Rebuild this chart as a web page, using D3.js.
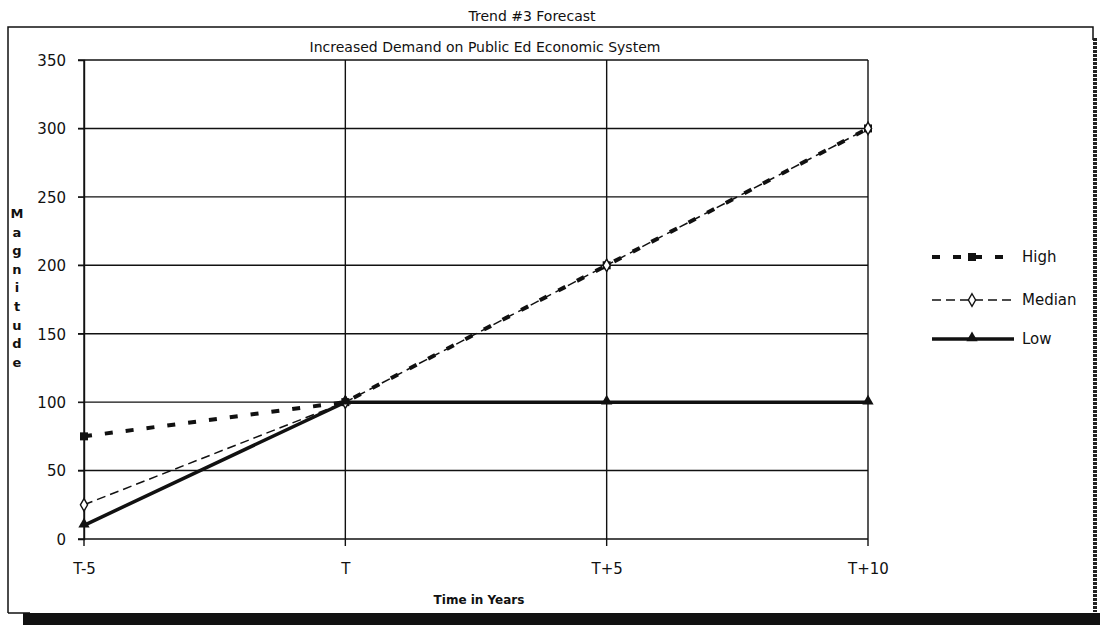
<!DOCTYPE html>
<html>
<head>
<meta charset="utf-8">
<script src="https://cdn.jsdelivr.net/npm/d3@7"></script>
<style>
  body { margin: 0; background: #fff; }
  text { font-family: "DejaVu Sans", Verdana, sans-serif; fill: #111; }
</style>
</head>
<body>
<div id="container"><svg></svg></div>
<script>
// chart data
const categories = ["T-5", "T", "T+5", "T+10"];
const high = [75, 100, 200, 300];
const median = [25, 100, 200, 300];
const low = [10, 100, 100, 100];
const yTicks = [0, 50, 100, 150, 200, 250, 300, 350];

const width = 1100, height = 625;
const margin = { left: 84, right: 232, top: 60, bottom: 86 };

let svg = d3.select('#container').select('svg')
    .attr('width', width)
    .attr('height', height);

let x = d3.scalePoint().domain(categories).range([margin.left, width - margin.right]);
let y = d3.scaleLinear().domain([0, 350]).range([height - margin.bottom, margin.top]);

// outer frame
svg.append("path")
    .attr("d", "M8,613 V27 H1093 V40")
    .attr("fill", "none").attr("stroke", "#111").attr("stroke-width", 1.5);
svg.append("line")
    .attr("x1", 8).attr("x2", 30).attr("y1", 613).attr("y2", 613)
    .attr("stroke", "#111").attr("stroke-width", 1.5);
svg.append("line")
    .attr("x1", 1095).attr("x2", 1095).attr("y1", 38).attr("y2", 612)
    .attr("stroke", "#222").attr("stroke-width", 4).attr("stroke-dasharray", "3,1");
svg.append("rect")
    .attr("x", 23).attr("y", 613).attr("width", width - 23).attr("height", 12)
    .attr("fill", "#111");

// titles
svg.append("text").attr("x", 532).attr("y", 21).attr("text-anchor", "middle")
    .style("font-size", "14px").text("Trend #3 Forecast");
svg.append("text").attr("x", 485).attr("y", 52).attr("text-anchor", "middle")
    .style("font-size", "14px").text("Increased Demand on Public Ed Economic System");

// grid
svg.append("g").selectAll("line").data(yTicks).join("line")
    .attr("x1", margin.left - 6).attr("x2", width - margin.right)
    .attr("y1", d => y(d)).attr("y2", d => y(d))
    .attr("stroke", "#111").attr("stroke-width", 1.4);
svg.append("g").selectAll("line").data(categories).join("line")
    .attr("x1", d => x(d)).attr("x2", d => x(d))
    .attr("y1", y(350)).attr("y2", y(0) + 7)
    .attr("stroke", "#111").attr("stroke-width", 1.4);

// axes
let yAxis = svg.append("g")
    .attr("transform", `translate(${margin.left},0)`)
    .call(d3.axisLeft(y).tickValues(yTicks).tickSize(6).tickPadding(12));
yAxis.select(".domain").attr("stroke", "#111").attr("stroke-width", 1.4);
yAxis.selectAll("line").attr("stroke", "#111");
yAxis.selectAll("text").style("font-size", "15px").attr("dy", "0.36em");

let xAxis = svg.append("g")
    .attr("transform", `translate(0,${y(0)})`)
    .call(d3.axisBottom(x).tickSize(0).tickPadding(24));
xAxis.select(".domain").remove();
xAxis.selectAll("text").style("font-size", "15px");

// axis titles
svg.append("text").attr("x", 479).attr("y", 604).attr("text-anchor", "middle")
    .style("font-size", "12px").style("font-weight", "bold").text("Time in Years");
svg.append("g").selectAll("text").data("Magnitude".split("")).join("text")
    .attr("x", 17).attr("y", (d, i) => 218 + i * 18.6)
    .attr("text-anchor", "middle")
    .style("font-size", "13px").style("font-weight", "bold")
    .text(d => d);

// series
const series = [
  { name: "High", values: high, width: 4, dash: "8,13", marker: "square" },
  { name: "Median", values: median, width: 1.5, dash: "9,5", marker: "diamond" },
  { name: "Low", values: low, width: 3.5, dash: null, marker: "triangle" }
];

let line = d3.line().x((d, i) => x(categories[i])).y(d => y(d));

function drawMarker(g, type, cx, cy) {
  if (type === "square") {
    g.append("rect").attr("x", cx - 4).attr("y", cy - 4).attr("width", 8).attr("height", 8)
      .attr("fill", "#111");
  } else if (type === "diamond") {
    g.append("path").attr("d", d3.symbol(d3.symbolDiamond, 45)())
      .attr("transform", `translate(${cx},${cy})`)
      .attr("fill", "#fff").attr("stroke", "#111").attr("stroke-width", 1.4);
  } else {
    g.append("path").attr("d", d3.symbol(d3.symbolTriangle, 55)())
      .attr("transform", `translate(${cx},${cy - 1})`)
      .attr("fill", "#111");
  }
}

series.forEach(s => {
  svg.append("path").datum(s.values)
      .attr("d", line)
      .attr("fill", "none").attr("stroke", "#111")
      .attr("stroke-width", s.width)
      .attr("stroke-dasharray", s.dash);
});
series.forEach(s => {
  let g = svg.append("g");
  s.values.forEach((v, i) => drawMarker(g, s.marker, x(categories[i]), y(v)));
});

// legend
const legendY = [257, 300, 339];
series.forEach((s, i) => {
  let g = svg.append("g");
  g.append("line").attr("x1", 932).attr("x2", 1014)
    .attr("y1", legendY[i]).attr("y2", legendY[i])
    .attr("stroke", "#111").attr("stroke-width", s.width)
    .attr("stroke-dasharray", s.dash);
  drawMarker(g, s.marker, 972, legendY[i]);
  g.append("text").attr("x", 1022).attr("y", legendY[i] + 5)
    .style("font-size", "15px").text(s.name);
});
</script>
</body>
</html>
